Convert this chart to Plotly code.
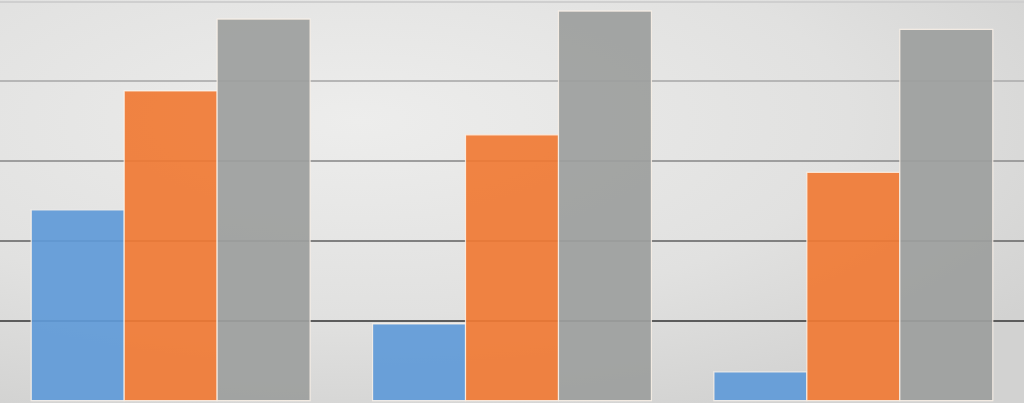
import plotly.graph_objects as go
import urllib.parse

categories = ["Category 1", "Category 2", "Category 3"]
series_names = ["Series 1", "Series 2", "Series 3"]
series1 = [2.39, 0.96, 0.36]
series2 = [3.88, 3.33, 2.86]
series3 = [4.78, 4.88, 4.65]
grid_values = [0, 1, 2, 3, 4, 5]

colors = ["rgba(95,154,216,0.92)", "rgba(240,121,52,0.92)", "rgba(157,159,158,0.93)"]
grid_colors = ["rgba(0,0,0,0)", "#5c5c5c", "#808080", "#9e9e9e", "#b6b6b6", "#cfcfcf"]

y_range = [-0.031, 5.019]

fig = go.Figure()
for name, vals, col in zip(series_names, [series1, series2, series3], colors):
    fig.add_trace(go.Bar(
        x=categories, y=vals, name=name,
        marker=dict(color=col, line=dict(color="rgba(255,245,235,0.8)", width=1.2)),
        showlegend=False,
    ))

svg = (
    '<svg xmlns="http://www.w3.org/2000/svg" width="1024" height="403" preserveAspectRatio="none">'
    '<defs><radialGradient id="g" cx="0.35" cy="0.3" r="0.8">'
    '<stop offset="0" stop-color="#ededec"/>'
    '<stop offset="0.6" stop-color="#e1e1e0"/>'
    '<stop offset="1" stop-color="#d2d2d1"/>'
    '</radialGradient></defs>'
    '<rect width="1024" height="403" fill="url(#g)"/></svg>'
)
src = "data:image/svg+xml;charset=utf-8," + urllib.parse.quote(svg)

layout = dict(
    width=1024, height=403,
    margin=dict(l=0, r=0, t=0, b=0),
    paper_bgcolor="#dedede",
    plot_bgcolor="rgba(0,0,0,0)",
    barmode="group",
    bargap=0.183,
    bargroupgap=0,
    xaxis=dict(range=[-0.5, 2.5], showticklabels=False, showgrid=False,
               zeroline=False, showline=False, ticks=""),
    yaxis=dict(range=y_range, showticklabels=False, showgrid=False,
               zeroline=False, showline=False, ticks=""),
    images=[dict(source=src, xref="paper", yref="paper", x=0, y=1,
                 sizex=1, sizey=1, sizing="stretch", layer="below",
                 xanchor="left", yanchor="top")],
)

# gridlines with graded colours via overlaying axes
for i, (gv, gc) in enumerate(zip(grid_values, grid_colors)):
    ax = f"yaxis{i + 2}"
    layout[ax] = dict(overlaying="y", range=y_range, tickvals=[gv],
                      showticklabels=False, showgrid=True, gridcolor=gc,
                      gridwidth=1.5, zeroline=False, showline=False, ticks="")
    fig.add_trace(go.Scatter(x=[None], y=[None], yaxis=f"y{i + 2}",
                             showlegend=False, hoverinfo="skip"))

fig.update_layout(**layout)
fig.write_html(
    "out.html",
    config={"displayModeBar": False},
    post_script="document.body.style.margin='0';document.body.style.overflow='hidden';",
)
